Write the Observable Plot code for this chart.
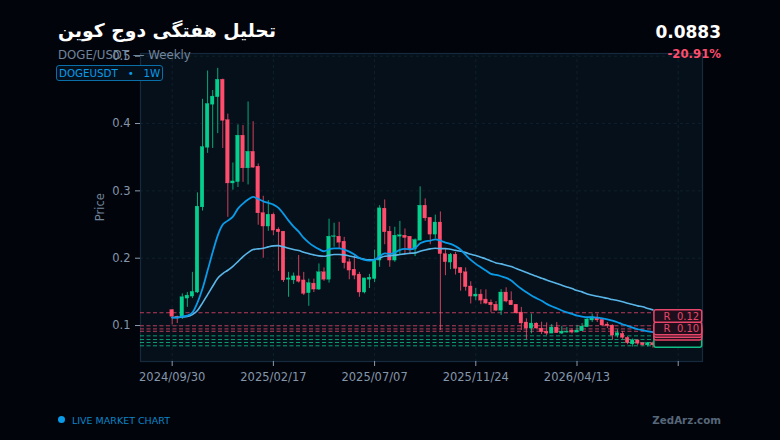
<!DOCTYPE html>
<html>
<head>
<meta charset="utf-8">
<script src="https://cdn.jsdelivr.net/npm/d3@7"></script>
<script src="https://cdn.jsdelivr.net/npm/@observablehq/plot@0.6"></script>
<style>
html,body{margin:0;padding:0;background:#02040b;width:780px;height:440px;overflow:hidden;font-family:"DejaVu Sans",sans-serif}
#wrap{position:relative;width:780px;height:440px}
#wrap>div{position:absolute;white-space:nowrap}
#chart{left:0;top:0}
</style>
</head>
<body>
<div id="wrap">
<div id="chart"></div>
<div style="left:58px;top:20px;font-size:18.8px;font-weight:700;color:#fff;direction:rtl;unicode-bidi:plaintext">تحلیل هفتگی دوج کوین</div>
<div style="left:58px;top:48px;font-size:11.75px;color:#71859b">DOGE/USDT — Weekly</div>
<div style="left:56px;top:65px;height:14px;line-height:14px;padding:0 2px;font-size:10.3px;color:#0a9be8;border:1px solid #0a6fa8;border-radius:3px;white-space:pre;background:#04101c">DOGEUSDT   •   1W</div>
<div style="right:59px;top:22px;font-size:17px;font-weight:700;color:#fff">0.0883</div>
<div style="right:59px;top:47px;font-size:11.7px;font-weight:700;color:#ff4d6d">-20.91%</div>
<div style="left:58px;top:416px;width:7px;height:7px;border-radius:50%;background:#0a9be8"></div>
<div style="left:72px;top:414.5px;font-size:9.5px;color:#0a86c8">LIVE MARKET CHART</div>
<div style="right:59px;top:414px;font-size:10.3px;font-weight:700;color:#56677a">ZedArz.com</div>
</div>
<script>
const tickIndex = [0, 20, 40, 60, 80, 100];
const tickLabels = ["2024/09/30", "2025/02/17", "2025/07/07", "2025/11/24", "2026/04/13", ""];
const priceTicks = [0.1, 0.2, 0.3, 0.4, 0.5];

const opens = [.123,.113,.113,.140,.143,.149,.2755,.364,.428,.439,.465,.405,.311,.313,.382,.3334,.358,.336,.267,.247,.2647,.2425,.2395,.168,.167,.173,.167,.148,.1623,.1534,.179,.168,.2315,.232,.2246,.194,.183,.1757,.149,.168,.169,.1965,.2736,.2395,.1965,.232,.2335,.232,.2128,.226,.278,.26,.235,.253,.206,.1935,.2053,.1856,.179,.158,.143,.146,.1386,.134,.131,.122,.149,.137,.131,.1193,.1045,.0955,.103,.0955,.091,.088,.097,.088,.0895,.0925,.0895,.0915,.0975,.1075,.1115,.1085,.1015,.1,.085,.0877,.0817,.072,.078,.0737,.0705,.074];
const highs = [.124,.114,.147,.149,.179,.297,.436,.478,.449,.482,.466,.414,.3414,.398,.397,.432,.4027,.34,.292,.2855,.267,.245,.2395,.179,.178,.204,.179,.169,.169,.1915,.1856,.258,.252,.2533,.231,.199,.205,.179,.17,.176,.212,.278,.2865,.247,.246,.2547,.2434,.232,.2286,.306,.288,.26,.264,.2687,.214,.207,.2088,.1856,.1856,.165,.155,.153,.153,.138,.1356,.1534,.156,.15,.131,.127,.11,.117,.104,.105,.104,.1015,.1045,.0985,.097,.095,.1,.103,.112,.117,.117,.11,.1045,.101,.0935,.091,.0837,.08,.078,.0737,.074,.0755];
const lows = [.101,.103,.109,.127,.14,.1475,.27,.3557,.363,.385,.363,.2607,.301,.305,.3126,.3088,.3335,.249,.2,.24,.2335,.1805,.164,.142,.161,.163,.1445,.1286,.149,.152,.1657,.163,.2163,.2138,.184,.168,.168,.142,.147,.155,.164,.1865,.22,.1865,.1939,.205,.206,.205,.2024,.226,.2547,.22,.2286,.0926,.174,.183,.175,.151,.151,.132,.137,.131,.131,.119,.121,.115,.1337,.13,.117,.0926,.0788,.0877,.095,.0866,.085,.088,.0886,.0866,.089,.0875,.0895,.0915,.097,.1045,.1045,.0993,.0955,.078,.0815,.0795,.0715,.068,.0705,.0693,.068,.0665];
const closes = [.113,.112,.142,.1445,.15,.2766,.365,.429,.44,.465,.404,.311,.314,.382,.3334,.358,.3344,.2666,.247,.2647,.241,.2385,.167,.17,.173,.165,.147,.163,.1534,.179,.168,.232,.2325,.223,.1924,.1816,.174,.149,.17,.171,.1975,.274,.2385,.1965,.2335,.234,.23,.2128,.227,.278,.259,.235,.253,.206,.194,.2053,.184,.1776,.157,.143,.146,.137,.1326,.13,.122,.149,.1356,.13,.118,.103,.0955,.103,.0955,.09,.088,.097,.0886,.091,.091,.0895,.0925,.0985,.109,.1123,.1075,.1,.099,.085,.0886,.0817,.0737,.078,.073,.0707,.074,.0705];
const emaFast = [.1119,.1119,.1134,.1148,.1193,.1341,.1549,.1816,.2088,.2336,.2499,.2558,.2618,.2736,.2811,.287,.291,.288,.2845,.2821,.2796,.2747,.2658,.2558,.2469,.2395,.2301,.2232,.2177,.2135,.2103,.2132,.2147,.2147,.2128,.2098,.2054,.2005,.1975,.1965,.1975,.2028,.2073,.2064,.2083,.2123,.2138,.2132,.2153,.2221,.2251,.2261,.2281,.2261,.2232,.2212,.2177,.2128,.2049,.1975,.1916,.1865,.1816,.1767,.1752,.1732,.1708,.1668,.1604,.1545,.1494,.1445,.1405,.1367,.1322,.1286,.1257,.1223,.1197,.1174,.1148,.1134,.1123,.1123,.1119,.1108,.1093,.1074,.1049,.1019,.0996,.097,.0945,.093,.0915,.0901];
const emaSlow = [.1119,.1119,.1126,.1134,.1163,.1223,.1337,.146,.1583,.1702,.1772,.1821,.188,.195,.2024,.2083,.2128,.2138,.2147,.2168,.2183,.2187,.2168,.2147,.2128,.2113,.2088,.2068,.2049,.2034,.2028,.2043,.2054,.2054,.2049,.2034,.2019,.1999,.1984,.1975,.1979,.2005,.2028,.2034,.2043,.2054,.2064,.2073,.2079,.2103,.2123,.2138,.2147,.2143,.2143,.2132,.2117,.2103,.2083,.2058,.2039,.2014,.199,.196,.193,.1916,.1895,.1876,.1846,.1816,.1787,.1757,.1732,.1702,.1678,.1649,.1624,.1598,.1574,.1549,.1519,.15,.147,.145,.1435,.142,.1405,.1386,.1371,.1352,.1331,.1312,.1292,.1278,.1252,.1233];

const resistance = [.119,.0996,.095,.0915];
const support = [.0847,.0792,.0748,.0699];
const boxCenters = [.0763,.0871,.0911,.0948,.1133];
const boxColors = ["#0fbf86","#e8466a","#e8466a","#e8466a","#e8466a"];
const boxFills = ["#050e14","#1f0f1c","#1f0f1c","#1f0f1c","#1f0f1c"];
const boxTexts = ["","","","R\u00a0\u00a00.10","R\u00a0\u00a00.12"];
const boxFrom = 95.3, boxTo = 104.74, boxHalf = 0.0093;

const RED = "#ff4d6d", GREEN = "#06cf8e";
const candles = opens.map((o,i)=>({i,o,h:highs[i],l:lows[i],c:closes[i],col:closes[i]>=o?GREEN:RED}));
const fastPts = emaFast.map((v,i)=>({i,v}));
const slowPts = emaSlow.map((v,i)=>({i,v}));
const boxes = boxCenters.map((v,k)=>({v,col:boxColors[k],fill:boxFills[k],t:boxTexts[k]}));

const chart = Plot.plot({
  width:780,height:440,
  marginLeft:140,marginRight:78,marginTop:53,marginBottom:79,
  style:{background:"transparent",fontFamily:"'DejaVu Sans',sans-serif",fontSize:"11.5px",overflow:"visible"},
  x:{type:"linear",domain:[-6.26,104.8]},
  y:{type:"linear",domain:[0.0466,0.504]},
  color:{type:"identity"},
  marks:[
    Plot.frame({fill:"#05101a",stroke:"#172a3d",strokeWidth:1.2}),
    Plot.gridX(tickIndex,{stroke:"#1a2b3c",strokeOpacity:.55,strokeDasharray:"3,3"}),
    Plot.gridY(priceTicks,{stroke:"#1a2b3c",strokeOpacity:.55,strokeDasharray:"3,3"}),
    Plot.ruleY(resistance,{stroke:"#e8466a",strokeOpacity:.8,strokeWidth:1,strokeDasharray:"4,2.5"}),
    Plot.ruleY(support,{stroke:"#0fbf86",strokeOpacity:.8,strokeWidth:1,strokeDasharray:"4,2.5"}),
    Plot.ruleX(candles,{x:"i",y1:"l",y2:"h",stroke:"col",strokeWidth:1,strokeOpacity:.8}),
    Plot.rect(candles,{x1:d=>d.i-.36,x2:d=>d.i+.36,y1:"o",y2:"c",fill:"col",stroke:"col",strokeWidth:.3}),
    Plot.line(slowPts,{x:"i",y:"v",stroke:"#5ab6e8",strokeWidth:1.6,curve:"monotone-x"}),
    Plot.line(fastPts,{x:"i",y:"v",stroke:"#0a9be8",strokeWidth:1.8,curve:"monotone-x"}),
    ...boxes.flatMap(b=>[
      Plot.rect([b],{x1:()=>boxFrom,x2:()=>boxTo,y1:d=>d.v-boxHalf,y2:d=>d.v+boxHalf,fill:"fill",stroke:"col",strokeWidth:1.5,rx:2}),
      ...(b.t?[Plot.text([b],{x:()=>boxTo,y:"v",text:"t",fill:"col",dx:-3,textAnchor:"end",fontSize:10})]:[])
    ]),
    Plot.axisX({ticks:tickIndex,tickSize:5,tickPadding:6,tickFormat:d=>tickLabels[tickIndex.indexOf(d)],stroke:"#8a9bad",fill:"#8497aa",label:null}),
    Plot.axisY({ticks:priceTicks,tickSize:5,tickPadding:5,tickFormat:".1f",stroke:"#8a9bad",fill:"#8497aa",label:null,fontSize:11.5}),
    Plot.text(["Price"],{x:-6.26,y:0.2757,dx:-40,text:d=>d,rotate:-90,fill:"#71859b",fontSize:11.5})
  ]
});
document.getElementById("chart").appendChild(chart);
</script>
</body>
</html>
